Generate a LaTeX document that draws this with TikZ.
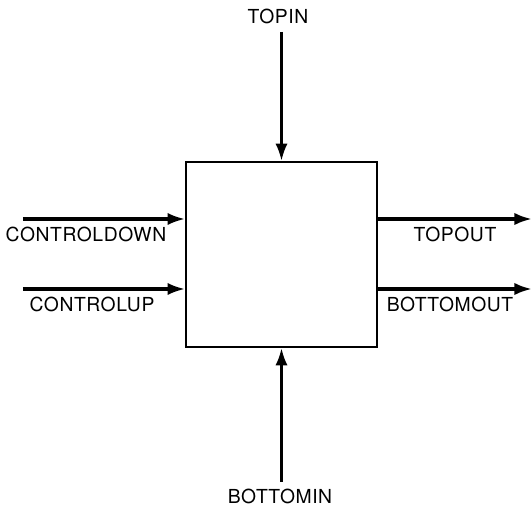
\documentclass[tikz,border=0pt]{standalone}
\usepackage{fontspec}
\setmainfont{TeX Gyre Heros}[LetterSpace=3]
\usepackage{tikz}
\usetikzlibrary{arrows.meta}

\tikzset{
	sig/.style={line width=1.8pt, -{Latex[length=10pt, width=7pt]}},
	lbl/.style={font=\fontsize{11}{13}\selectfont, inner sep=0pt}
}

\begin{document}
\begin{tikzpicture}[x=0.02cm, y=-0.02cm]
			%%%%% START %%%%%
			
			\useasboundingbox (0, 0) rectangle (532, 509);
			
			\node[draw, line width=1pt, minimum width=3.82cm, minimum height=3.7cm, inner sep=0pt] (blk) at (281.5, 254.5) {};
			
			\coordinate (topin) at (281.5, 32);
			\coordinate (botin) at (281.5, 482);
			\coordinate (cdown) at (23, 219);
			\coordinate (cup) at (23, 289);
			\coordinate (topout) at (532, 219);
			\coordinate (botout) at (532, 289);
			
			\draw[sig] (topin) -- (blk.north);
			\draw[sig] (botin) -- (blk.south);
			\draw[sig] (cdown) -- (cdown -| blk.west);
			\draw[sig] (cup) -- (cup -| blk.west);
			\draw[sig] (topout -| blk.east) -- (topout);
			\draw[sig] (botout -| blk.east) -- (botout);
			
			\node[lbl] (ltopin) at (278, 16) {TOPIN};
			\node[lbl] (lbotin) at (280, 496) {BOTTOMIN};
			\node[lbl] (lcdown) at (86, 234) {CONTROLDOWN};
			\node[lbl] (lcup) at (92, 304) {CONTROLUP};
			\node[lbl] (ltopout) at (455, 234) {TOPOUT};
			\node[lbl] (lbotout) at (450, 304) {BOTTOMOUT};
			
			%%%%% END %%%%%
\end{tikzpicture}
\end{document}
